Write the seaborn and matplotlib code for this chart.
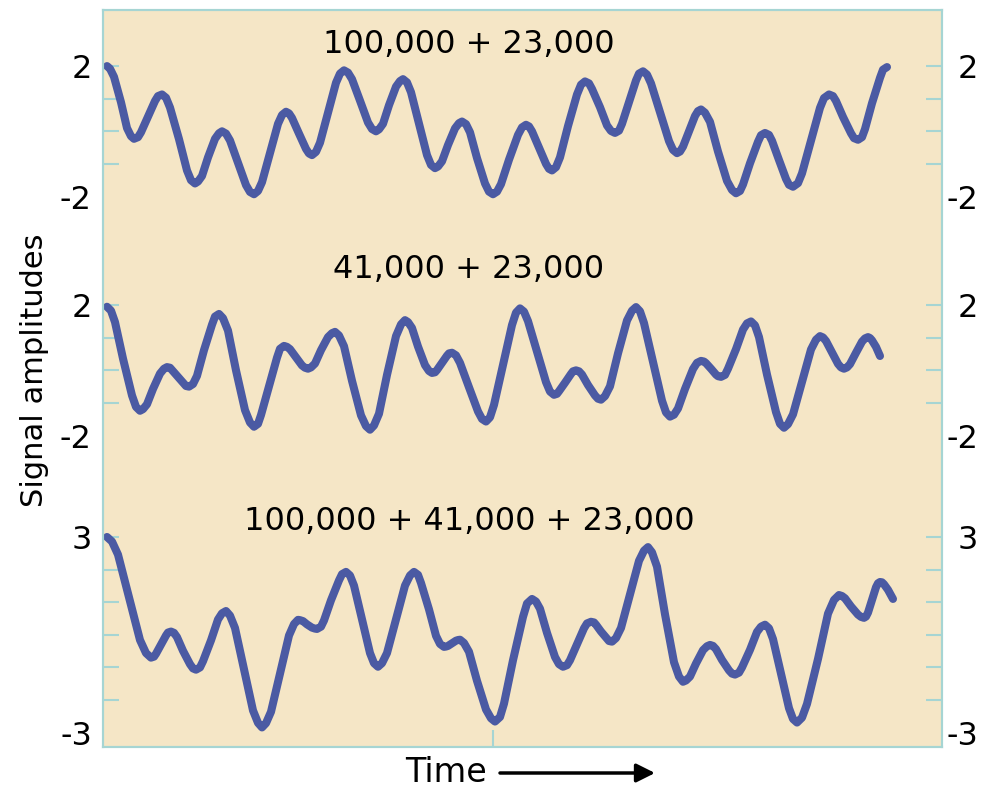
import matplotlib
matplotlib.use("Agg")
import matplotlib.pyplot as plt
import pandas as pd
import seaborn as sns

# text over each trace
titles = ["100,000 + 23,000", "41,000 + 23,000", "100,000 + 41,000 + 23,000"]

# traces: time (arbitrary units) and amplitude,
# one row per stretch between neighbouring peaks and troughs
t_top = [0,
         3, 7, 14, 20, 24, 27,
         31, 34, 41, 48, 51, 55,
         59, 63, 72, 80, 84, 88,
         91, 95, 101, 108, 112, 115,
         119, 123, 131, 139, 143, 147,
         151, 155, 163, 171, 175, 179,
         182, 185, 192, 199, 202, 205,
         209, 213, 221, 229, 233, 237,
         241, 245, 253, 261, 265, 269,
         272, 276, 282, 289, 293, 296,
         300, 304, 312, 320, 324, 328,
         331, 335, 341, 348, 352, 355,
         359, 363, 370, 378, 382, 386,
         390, 394, 402, 411, 415, 419,
         422, 425, 432, 439, 442, 445,
         449, 453, 461, 470, 474, 478,
         482, 485, 493, 500, 504, 508,
         512, 515, 522, 529, 532, 536,
         540, 544, 553, 562, 566, 570,
         573, 576, 582, 588, 591, 594,
         598, 603, 611, 620, 625, 629,
         633, 636, 643, 651, 654, 658,
         662, 665, 672, 679, 682, 686,
         691, 695, 704, 713, 717, 722,
         726, 729, 736, 744, 747, 751,
         755, 758, 765, 773, 776, 780]
amp_top = [2.00,
           1.92, 1.67, 0.89, 0.10, -0.15, -0.23,
           -0.18, -0.03, 0.45, 0.93, 1.08, 1.13,
           1.03, 0.73, -0.24, -1.20, -1.50, -1.60,
           -1.54, -1.37, -0.80, -0.23, -0.06, 0.00,
           -0.07, -0.28, -0.97, -1.65, -1.86, -1.93,
           -1.83, -1.56, -0.67, 0.23, 0.50, 0.60,
           0.55, 0.41, -0.07, -0.54, -0.68, -0.73,
           -0.63, -0.35, 0.57, 1.49, 1.77, 1.87,
           1.80, 1.60, 0.94, 0.27, 0.07, 0.00,
           0.06, 0.23, 0.80, 1.37, 1.54, 1.60,
           1.50, 1.20, 0.24, -0.73, -1.03, -1.13,
           -1.08, -0.92, -0.42, 0.09, 0.25, 0.30,
           0.22, -0.03, -0.82, -1.60, -1.85, -1.93,
           -1.85, -1.62, -0.87, -0.11, 0.12, 0.20,
           0.15, 0.00, -0.50, -1.00, -1.15, -1.20,
           -1.10, -0.80, 0.16, 1.13, 1.43, 1.53,
           1.47, 1.30, 0.74, 0.18, 0.01, -0.05,
           0.02, 0.23, 0.90, 1.56, 1.77, 1.84,
           1.74, 1.47, 0.59, -0.30, -0.57, -0.67,
           -0.62, -0.47, 0.00, 0.47, 0.62, 0.67,
           0.57, 0.29, -0.62, -1.52, -1.80, -1.90,
           -1.83, -1.63, -0.98, -0.32, -0.12, -0.05,
           -0.11, -0.29, -0.88, -1.46, -1.64, -1.70,
           -1.59, -1.29, -0.29, 0.72, 1.02, 1.13,
           1.08, 0.93, 0.44, -0.06, -0.21, -0.26,
           -0.18, 0.07, 0.86, 1.64, 1.89, 1.97]

t_mid = [0,
         4, 8, 16, 25, 29, 33,
         36, 40, 46, 53, 57, 60,
         63, 65, 71, 77, 79, 82,
         86, 90, 97, 105, 108, 112,
         116, 121, 129, 138, 143, 147,
         151, 154, 162, 170, 173, 177,
         180, 183, 189, 195, 198, 201,
         204, 208, 214, 221, 225, 228,
         232, 237, 245, 254, 259, 263,
         267, 272, 280, 289, 294, 298,
         301, 305, 311, 318, 322, 325,
         328, 330, 335, 340, 342, 345,
         349, 353, 362, 371, 375, 379,
         383, 387, 396, 405, 409, 413,
         417, 421, 430, 439, 443, 447,
         450, 452, 458, 464, 466, 469,
         472, 475, 481, 488, 491, 494,
         498, 503, 511, 520, 525, 529,
         533, 537, 546, 555, 559, 563,
         567, 571, 578, 586, 590, 594,
         597, 599, 604, 609, 611, 614,
         618, 621, 629, 636, 640, 644,
         648, 652, 660, 669, 673, 677,
         681, 686, 695, 704, 709, 713,
         716, 719, 725, 731, 734, 737,
         740, 743, 749, 755, 758, 761,
         763, 765, 769, 773]
amp_mid = [1.95,
           1.83, 1.48, 0.36, -0.77, -1.12, -1.24,
           -1.19, -1.04, -0.57, -0.10, 0.05, 0.10,
           0.08, 0.01, -0.20, -0.41, -0.48, -0.50,
           -0.42, -0.17, 0.62, 1.40, 1.65, 1.73,
           1.60, 1.22, 0.00, -1.22, -1.60, -1.73,
           -1.64, -1.37, -0.49, 0.39, 0.66, 0.75,
           0.72, 0.65, 0.40, 0.15, 0.08, 0.05,
           0.09, 0.21, 0.62, 1.02, 1.14, 1.18,
           1.07, 0.74, -0.32, -1.38, -1.71, -1.82,
           -1.69, -1.33, -0.14, 1.05, 1.41, 1.54,
           1.48, 1.30, 0.73, 0.16, -0.02, -0.08,
           -0.06, 0.01, 0.23, 0.45, 0.52, 0.54,
           0.46, 0.23, -0.52, -1.26, -1.49, -1.57,
           -1.44, -1.06, 0.17, 1.39, 1.77, 1.90,
           1.80, 1.51, 0.58, -0.36, -0.65, -0.75,
           -0.72, -0.64, -0.38, -0.11, -0.03, 0.00,
           -0.03, -0.13, -0.45, -0.77, -0.87, -0.90,
           -0.79, -0.49, 0.52, 1.53, 1.83, 1.94,
           1.81, 1.45, 0.26, -0.93, -1.29, -1.42,
           -1.36, -1.17, -0.57, 0.04, 0.23, 0.29,
           0.27, 0.22, 0.05, -0.13, -0.18, -0.20,
           -0.14, 0.05, 0.65, 1.25, 1.44, 1.50,
           1.38, 1.02, -0.13, -1.28, -1.64, -1.76,
           -1.65, -1.35, -0.36, 0.64, 0.94, 1.05,
           1.01, 0.90, 0.55, 0.20, 0.09, 0.05,
           0.09, 0.19, 0.54, 0.88, 0.98, 1.02,
           0.99, 0.92, 0.72, 0.44]

t_bot = [0,
         5, 11, 22, 33, 39, 44,
         47, 49, 54, 59, 61, 64,
         67, 70, 76, 83, 86, 89,
         93, 96, 104, 111, 115, 119,
         123, 128, 137, 146, 151, 155,
         159, 164, 173, 182, 187, 191,
         193, 196, 200, 205, 208, 210,
         214, 217, 224, 232, 235, 239,
         243, 247, 255, 263, 267, 271,
         275, 280, 289, 298, 303, 307,
         311, 314, 322, 329, 333, 337,
         339, 341, 345, 349, 351, 353,
         357, 362, 370, 379, 384, 388,
         393, 397, 406, 416, 420, 425,
         429, 433, 440, 448, 452, 456,
         460, 463, 470, 477, 480, 484,
         487, 489, 494, 500, 502, 505,
         509, 514, 523, 532, 537, 541,
         545, 550, 558, 567, 572, 576,
         579, 583, 589, 596, 600, 603,
         606, 609, 615, 622, 625, 628,
         632, 635, 643, 650, 654, 658,
         662, 666, 674, 682, 686, 690,
         695, 700, 711, 721, 727, 732,
         735, 738, 744, 751, 754, 757,
         759, 761, 765, 769, 771, 773,
         775, 777, 781, 786]
amp_bot = [3.00,
           2.86, 2.46, 1.15, -0.16, -0.56, -0.70,
           -0.67, -0.58, -0.30, -0.02, 0.07, 0.10,
           0.06, -0.07, -0.49, -0.90, -1.03, -1.07,
           -1.00, -0.81, -0.17, 0.47, 0.66, 0.73,
           0.59, 0.21, -1.06, -2.32, -2.70, -2.84,
           -2.71, -2.36, -1.19, -0.02, 0.33, 0.46,
           0.45, 0.42, 0.32, 0.22, 0.19, 0.18,
           0.25, 0.44, 1.06, 1.67, 1.86, 1.93,
           1.82, 1.51, 0.48, -0.56, -0.87, -0.98,
           -0.87, -0.56, 0.48, 1.51, 1.82, 1.93,
           1.84, 1.59, 0.78, -0.03, -0.28, -0.37,
           -0.36, -0.34, -0.26, -0.18, -0.16, -0.15,
           -0.25, -0.52, -1.41, -2.29, -2.56, -2.66,
           -2.52, -2.11, -0.78, 0.55, 0.96, 1.10,
           1.02, 0.80, 0.06, -0.68, -0.90, -0.98,
           -0.93, -0.78, -0.29, 0.20, 0.35, 0.40,
           0.38, 0.31, 0.10, -0.12, -0.19, -0.21,
           -0.10, 0.21, 1.24, 2.27, 2.58, 2.69,
           2.53, 2.09, 0.63, -0.84, -1.28, -1.44,
           -1.40, -1.28, -0.88, -0.47, -0.35, -0.31,
           -0.34, -0.44, -0.77, -1.09, -1.19, -1.22,
           -1.16, -1.00, -0.46, 0.09, 0.25, 0.31,
           0.20, -0.13, -1.19, -2.25, -2.58, -2.69,
           -2.54, -2.12, -0.74, 0.65, 1.07, 1.22,
           1.19, 1.12, 0.87, 0.62, 0.55, 0.52,
           0.56, 0.68, 1.07, 1.46, 1.58, 1.62,
           1.61, 1.55, 1.38, 1.10]

# amplitude limits labelled at each trace
limits = [2, 2, 3]

# layout: vertical position of each trace's zero line
offsets = [18.88, 11.55, 3.44]
title_y = [21.53, 14.63, 6.90]

line_col = "#4b5aa3"
bg_col = "#f5e6c6"
edge_col = "#a6d5d3"

sns.set_theme(style="white")
plt.rcParams["font.family"] = ["DejaVu Sans"]

fig = plt.figure(figsize=(9.83, 7.91), dpi=100)
ax = fig.add_axes([103 / 983, 44 / 791, 839 / 983, 737 / 791])
ax.set_facecolor(bg_col)

traces = [(t_top, amp_top), (t_mid, amp_mid), (t_bot, amp_bot)]
for (t, a), off, title, ty in zip(traces, offsets, titles, title_y):
    assert len(t) == len(a)
    df = pd.DataFrame({"time": t, "amp": a})
    df["level"] = df["amp"] + off
    sns.lineplot(data=df, x="time", y="level", ax=ax, color=line_col,
                 linewidth=5.8, estimator=None, sort=False,
                 solid_capstyle="round", solid_joinstyle="round")
    ax.text(362, ty, title, ha="center", va="center", fontsize=23, color="black")

ax.set_xlim(-4, 835)
ax.set_ylim(0, 22.6)
ax.set_xlabel("")
ax.set_ylabel("")

# labelled ticks (no marks) and unlabelled tick marks at each unit
major_pos, major_lab, minor_pos = [], [], []
for lim, off in zip(limits, offsets):
    major_pos += [off + lim, off - lim]
    major_lab += [str(lim), str(-lim)]
    minor_pos += [off + k for k in range(lim, -lim, -1)]

ax2 = ax.twinx()
ax2.set_ylim(ax.get_ylim())
ax2.grid(False)

for a, side_pad in ((ax, 8), (ax2, 26)):
    a.yaxis.remove_overlapping_locs = False
    a.set_yticks(major_pos, major_lab, ha="right")
    a.set_yticks(minor_pos, minor=True)
    a.tick_params(axis="y", which="major", length=0, pad=side_pad,
                  labelsize=23, labelcolor="black")
    a.tick_params(axis="y", which="minor", direction="in", length=11.5,
                  width=1.5, color=edge_col)
    for s in a.spines.values():
        s.set_color(edge_col)
        s.set_linewidth(1.5)

ax.set_xticks([386], [""])
ax.tick_params(axis="x", direction="in", length=12, width=1.5, color=edge_col,
               bottom=True)

fig.text(35 / 983, 1 - 370 / 791, "Signal amplitudes", rotation=90,
         ha="center", va="center", fontsize=22, color="black")
fig.text(446 / 983, 1 - 773 / 791, "Time", ha="center", va="center",
         fontsize=24, color="black")
ax.annotate("", xy=(655 / 983, 1 - 773 / 791), xytext=(500 / 983, 1 - 773 / 791),
            xycoords="figure fraction", textcoords="figure fraction",
            arrowprops=dict(arrowstyle="-|>", color="black", lw=2.5,
                            mutation_scale=28, shrinkA=0, shrinkB=0))

fig.savefig("out.png", dpi=100, facecolor="white")
